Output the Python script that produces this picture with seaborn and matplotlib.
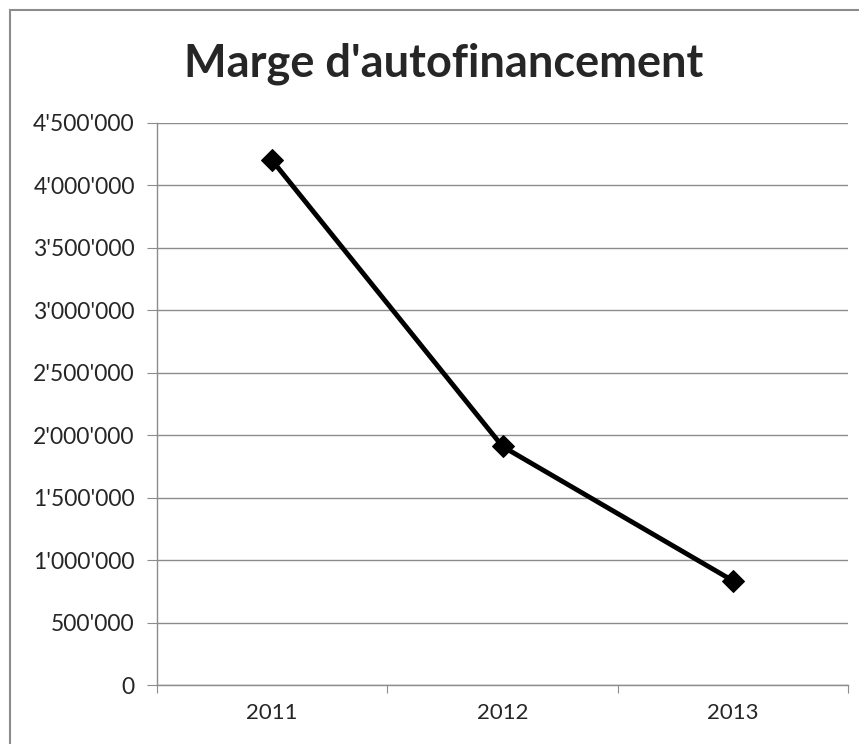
import matplotlib
matplotlib.use("Agg")
import matplotlib.pyplot as plt
import seaborn as sns
import pandas as pd
from matplotlib.patches import Rectangle
from matplotlib.ticker import FuncFormatter, MultipleLocator, FixedLocator

years = ["2011", "2012", "2013"]
marge = [4200000, 1910000, 835000]

df = pd.DataFrame({"Année": years, "Marge": marge})

sns.set_style("white")
plt.rcParams["font.family"] = ["Lato", "DejaVu Sans"]

fig = plt.figure(figsize=(8.59, 7.44), dpi=100)
ax = fig.add_axes([0.1828, 0.0793, 0.8044, 0.7554])

sns.lineplot(data=df, x="Année", y="Marge", ax=ax, color="black",
             linewidth=3.5, marker="D", markersize=11, markeredgecolor="black")

ax.set_ylim(0, 4500000)
ax.set_xlim(-0.5, 2.5)
ax.yaxis.set_major_locator(MultipleLocator(500000))
ax.yaxis.set_major_formatter(FuncFormatter(lambda v, p: f"{int(v):,}".replace(",", "'")))
ax.grid(axis="y", color="#8c8c8c", linewidth=1)
ax.set_axisbelow(True)

# category labels sit between the tick marks, like Excel
ax.xaxis.set_major_locator(FixedLocator([-0.5, 0.5, 1.5, 2.5]))
ax.xaxis.set_minor_locator(FixedLocator([0, 1, 2]))
ax.set_xticklabels([], minor=False)
ax.set_xticklabels(years, minor=True)
ax.tick_params(axis="x", which="major", length=6, color="#8c8c8c", direction="out", bottom=True)
ax.tick_params(axis="x", which="minor", length=0, labelsize=16, pad=13)
ax.tick_params(axis="y", length=7, color="#8c8c8c", direction="out", left=True, labelsize=16.5, pad=9)

for s in ["top", "right"]:
    ax.spines[s].set_visible(False)
for s in ["left", "bottom"]:
    ax.spines[s].set_color("#8c8c8c")
    ax.spines[s].set_linewidth(1)

ax.set_xlabel("")
ax.set_ylabel("")

fig.text(0.517, 0.914, "Marge d'autofinancement", ha="center", va="center",
         fontsize=32.5, fontweight="bold")

fig.patches.append(Rectangle((10 / 859, -0.1), 1.2, (744 - 10) / 744 + 0.1,
                             transform=fig.transFigure, fill=False,
                             edgecolor="#8c8c8c", linewidth=1.5))

fig.savefig("out.png", dpi=100)
